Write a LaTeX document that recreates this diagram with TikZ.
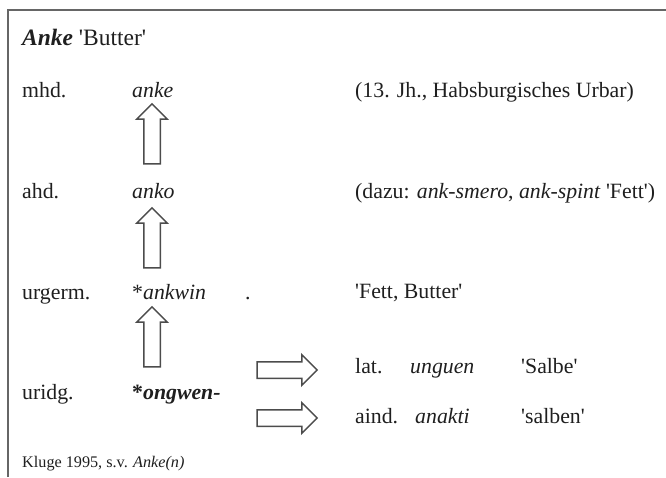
\documentclass[tikz,border=0pt]{standalone}
\usepackage{fontspec}
\setmainfont{Liberation Serif}
\usetikzlibrary{shapes.arrows}
\newcommand{\gloss}[1]{\textquotesingle #1\textquotesingle}

\begin{document}
\begin{tikzpicture}[x=1pt, y=-1pt,
    entry/.style={anchor=base west, inner sep=0pt, text=black!88,
                  font=\fontsize{21.8}{26}\selectfont},
    source/.style={entry, font=\fontsize{16.2}{19}\selectfont},
    blockarrow/.style={single arrow, draw=black!70, fill=white, line width=1.5pt,
                       inner sep=7.5pt, single arrow head extend=7pt,
                       minimum height=60pt, rotate=#1}
]
    \useasboundingbox (0,0) rectangle (666,477);

    % Frame
    \draw[black!60, line width=1.5pt] (8,477) -- (8,10) -- (666,10);

    % Title
    \node[entry, font=\fontsize{23.5}{28}\selectfont] (title) at (22,45) {\textbf{\textit{Anke}} \gloss{Butter}};

    % Stages
    \node[entry] (mhd) at (22,97) {mhd.};
    \node[entry] (ahd) at (22,198) {ahd.};
    \node[entry] (urgerm) at (22,299) {urgerm.};
    \node[entry] (uridg) at (22,399) {uridg.};

    % Forms
    \node[entry] (anke) at (132,97) {\textit{anke}};
    \node[entry] (anko) at (132,198) {\textit{anko}};
    \node[entry] (ankwin) at (132,299) {*\textit{ankwin}};
    \node[entry] (comma) at (245,299) {.};
    \node[entry] (ongwen) at (132,399) {\textbf{*\textit{ongwen-}}};

    % Notes
    \node[entry] (urbar) at (355,97) {(13. Jh., Habsburgisches Urbar)};
    \node[entry] (dazu) at (355,198) {(dazu: \textit{ank-smero}, \textit{ank-spint} \gloss{Fett})};
    \node[entry] (fett) at (355,298) {\gloss{Fett, Butter}};

    % Cognates
    \node[entry] (lat) at (355,373) {lat.};
    \node[entry] (unguen) at (410,373) {\textit{unguen}};
    \node[entry] (salbe) at (521,373) {\gloss{Salbe}};
    \node[entry] (aind) at (355,423) {aind.};
    \node[entry] (anakti) at (415,423) {\textit{anakti}};
    \node[entry] (salben) at (521,423) {\gloss{salben}};

    % Arrows
    \node[blockarrow=90] (up1) at (152,138) {};
    \node[blockarrow=90] (up2) at (152,242) {};
    \node[blockarrow=90] (up3) at (152,341) {};
    \node[blockarrow=0] (right1) at (283,370) {};
    \node[blockarrow=0] (right2) at (283,418) {};

    % Source
    \node[source] (kluge) at (22,467) {Kluge 1995, s.v. \textit{Anke(n)}};
\end{tikzpicture}
\end{document}
